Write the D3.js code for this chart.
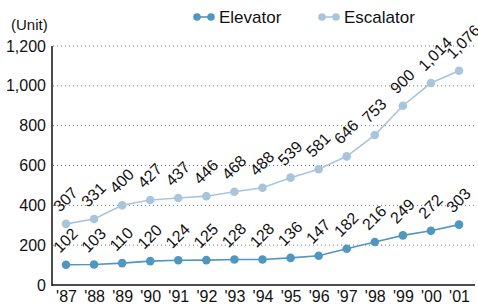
<!DOCTYPE html>
<html><head><meta charset="utf-8">
<script src="https://cdn.jsdelivr.net/npm/d3@7"></script>
<style>body{margin:0;background:#fff}svg{display:block;font-family:"Liberation Sans",Arial,sans-serif}</style>
</head><body><svg id="chart" width="478" height="307"></svg>
<script>
const years = ["'87","'88","'89","'90","'91","'92","'93","'94","'95","'96","'97","'98","'99","'00","'01"]
const elevator = [102,103,110,120,124,125,128,128,136,147,182,216,249,272,303]
const escalator = [307,331,400,427,437,446,468,488,539,581,646,753,900,1014,1076]
const yTicks = [0,200,400,600,800,1000,1200]
const series = [{name:'Elevator', values:elevator, color:'#4f97c0'}, {name:'Escalator', values:escalator, color:'#a9c5dc'}]

const svg = d3.select('#chart')
const x = d3.scalePoint().domain(years).range([66, 459])
const y = d3.scaleLinear().domain([0, 1200]).range([285, 46])
const fmt = d3.format(',')

// grid
svg.append('g').selectAll('line').data(yTicks.slice(1)).enter().append('line')
  .attr('x1', 53).attr('x2', 476).attr('y1', d => y(d)).attr('y2', d => y(d))
  .attr('stroke', '#555').attr('stroke-width', 0.8).attr('stroke-dasharray', '1,3')

const ya = svg.append('g').attr('transform', 'translate(52,0)')
  .call(d3.axisLeft(y).tickValues(yTicks).tickFormat(fmt).tickSize(0).tickPadding(6))
ya.select('.domain').remove()
ya.selectAll('text').attr('font-size', 16).attr('fill', '#111').attr('font-family', 'inherit')
svg.append('line').attr('x1', 52).attr('x2', 52).attr('y1', y(1200)).attr('y2', y(0) + 1).attr('stroke', '#111').attr('stroke-width', 1.5)

const xa = svg.append('g').attr('transform', `translate(0,${y(0)})`)
  .call(d3.axisBottom(x).tickSize(0).tickPadding(6))
xa.select('.domain').remove()
xa.selectAll('text').attr('font-size', 16).attr('fill', '#111').attr('font-family', 'inherit')
svg.append('line').attr('x1', 52).attr('x2', 475).attr('y1', y(0)).attr('y2', y(0)).attr('stroke', '#111').attr('stroke-width', 1.5)

svg.append('text').attr('x', 11).attr('y', 30).attr('font-size', 15).attr('fill', '#111').text('(Unit)')

const line = d3.line().x((d, i) => x(years[i])).y(d => y(d))
series.forEach(s => {
  svg.append('path').datum(s.values).attr('d', line).attr('fill', 'none').attr('stroke', s.color).attr('stroke-width', 1.6)
  svg.append('g').selectAll('circle').data(s.values).enter().append('circle')
    .attr('cx', (d, i) => x(years[i])).attr('cy', d => y(d)).attr('r', 4.3).attr('fill', s.color)
  svg.append('g').selectAll('text').data(s.values).enter().append('text')
    .attr('transform', (d, i) => `translate(${x(years[i]) - 6},${y(d) - 11}) rotate(-45)`)
    .attr('font-size', 16).attr('fill', '#111').text(d => fmt(d))
})

// legend
const lg = svg.append('g')
const lx = [195, 320]
series.forEach((s, i) => {
  const g = lg.append('g').attr('transform', `translate(${lx[i]},17)`)
  g.append('line').attr('x1', 0).attr('x2', 18).attr('stroke', s.color).attr('stroke-width', 1.6)
  g.append('circle').attr('cx', 2).attr('r', 3.8).attr('fill', s.color)
  g.append('circle').attr('cx', 16).attr('r', 3.8).attr('fill', s.color)
  g.append('text').attr('x', 24).attr('y', 6).attr('font-size', 17).attr('fill', '#111').text(s.name)
})
</script></body></html>
